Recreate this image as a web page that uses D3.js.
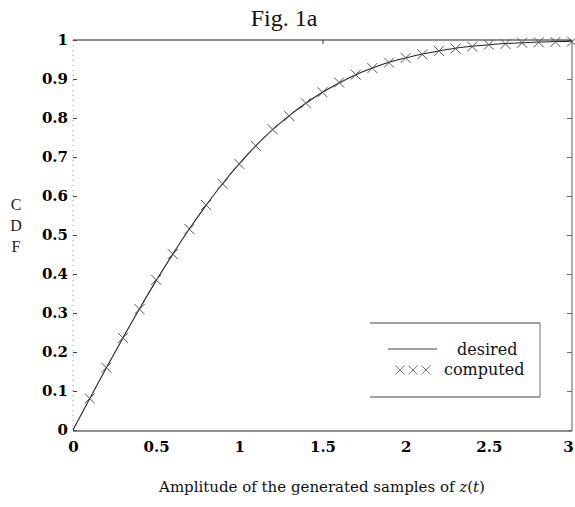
<!DOCTYPE html>
<html><head><meta charset="utf-8">
<script src="https://cdn.jsdelivr.net/npm/d3@7"></script>
<style>body{margin:0;background:#fff}</style>
</head><body><svg id="c" width="575" height="507"></svg>
<script>
const xTicks = [0, 0.5, 1, 1.5, 2, 2.5, 3];
const yTicks = [0, 0.1, 0.2, 0.3, 0.4, 0.5, 0.6, 0.7, 0.8, 0.9, 1];
const desiredX = [0, 0.1, 0.2, 0.3, 0.4, 0.5, 0.6, 0.7, 0.8, 0.9, 1.0, 1.1, 1.2, 1.3, 1.4, 1.5, 1.6, 1.7, 1.8, 1.9, 2.0, 2.1, 2.2, 2.3, 2.4, 2.5, 2.6, 2.7, 2.8, 2.9, 3.0];
const desiredY = [0, 0.080, 0.159, 0.236, 0.311, 0.383, 0.451, 0.516, 0.576, 0.632, 0.683, 0.729, 0.770, 0.806, 0.838, 0.866, 0.890, 0.911, 0.928, 0.943, 0.954, 0.964, 0.972, 0.979, 0.984, 0.988, 0.991, 0.993, 0.995, 0.996, 0.997];
const compX = [0.1, 0.2, 0.3, 0.4, 0.5, 0.6, 0.7, 0.8, 0.9, 1.0, 1.1, 1.2, 1.3, 1.4, 1.5, 1.6, 1.7, 1.8, 1.9, 2.0, 2.1, 2.2, 2.3, 2.4, 2.5, 2.6, 2.7, 2.8, 2.9, 3.0];
const compY = [0.081, 0.160, 0.236, 0.310, 0.385, 0.451, 0.515, 0.577, 0.631, 0.682, 0.728, 0.771, 0.805, 0.838, 0.866, 0.891, 0.911, 0.928, 0.942, 0.954, 0.963, 0.972, 0.978, 0.983, 0.988, 0.990, 0.993, 0.994, 0.995, 0.996];

const svg = d3.select("#c");
const L = 73, R = 572, T = 40, B = 430;
const x = d3.scaleLinear().domain([0, 3]).range([L, R]);
const y = d3.scaleLinear().domain([0, 1]).range([B, T]);
const serif = "'Liberation Serif', 'DejaVu Serif', serif";
const dvs = "'DejaVu Serif', serif";

// frame
svg.append("line").attr("x1", L).attr("x2", R).attr("y1", T).attr("y2", T).attr("stroke", "#222").attr("stroke-width", 1.2);
svg.append("line").attr("x1", L).attr("x2", R).attr("y1", B + 1).attr("y2", B + 1).attr("stroke", "#222").attr("stroke-width", 1.2);
svg.append("line").attr("x1", L).attr("x2", L).attr("y1", T).attr("y2", B).attr("stroke", "#999").attr("stroke-width", 1).attr("stroke-dasharray", "1,4");
svg.append("line").attr("x1", R).attr("x2", R).attr("y1", T).attr("y2", B + 1).attr("stroke", "#777").attr("stroke-width", 1.2);

// axes
const yAxis = d3.axisLeft(y).tickValues(yTicks).tickSize(-4).tickPadding(5).tickFormat(d => String(+d.toFixed(1)));
const gy = svg.append("g").attr("transform", `translate(${L},0)`).call(yAxis);
gy.select(".domain").remove();
gy.selectAll(".tick line").attr("stroke", "#444");
gy.selectAll(".tick text").attr("font-family", dvs).attr("font-weight", "bold").attr("font-size", 15).attr("fill", "#000");

const yAxisR = d3.axisRight(y).tickValues(yTicks).tickSize(-5).tickFormat("");
const gyr = svg.append("g").attr("transform", `translate(${R},0)`).call(yAxisR);
gyr.select(".domain").remove();
gyr.selectAll(".tick line").attr("stroke", "#666");

const xAxis = d3.axisBottom(x).tickValues(xTicks).tickSize(0).tickPadding(11).tickFormat(d => String(d));
const gx = svg.append("g").attr("transform", `translate(0,${B})`).call(xAxis);
gx.select(".domain").remove();
gx.selectAll(".tick text").attr("font-family", dvs).attr("font-weight", "bold").attr("font-size", 15).attr("fill", "#000")
  .attr("dx", d => d === 3 ? -4 : 0);

const xAxisT = d3.axisTop(x).tickValues([1.5]).tickSize(-4).tickFormat("");
const gxt = svg.append("g").attr("transform", `translate(0,${T})`).call(xAxisT);
gxt.select(".domain").remove();
gxt.selectAll(".tick line").attr("stroke", "#333");

// desired line
const line = d3.line().x((d, i) => x(desiredX[i])).y(d => y(d)).curve(d3.curveMonotoneX);
svg.append("path").attr("d", line(desiredY)).attr("fill", "none").attr("stroke", "#222").attr("stroke-width", 1.1);

// computed markers
const s = 5;
const mk = svg.append("g").attr("stroke", "#555").attr("stroke-width", 1);
compY.forEach((v, i) => {
  const cx = x(compX[i]), cy = y(v);
  mk.append("path").attr("d", `M${cx - s},${cy - s}L${cx + s},${cy + s}M${cx - s},${cy + s}L${cx + s},${cy - s}`);
});

// title
svg.append("text").attr("x", 284).attr("y", 26).attr("text-anchor", "middle").attr("font-family", serif).attr("font-size", 24).attr("fill", "#111").text("Fig. 1a");

// y label stacked
["C", "D", "F"].forEach((c, i) => {
  svg.append("text").attr("x", 16).attr("y", 210 + i * 21).attr("text-anchor", "middle").attr("font-family", serif).attr("font-size", 16).attr("fill", "#222").text(c);
});

// x label
const xl = svg.append("text").attr("x", 322).attr("y", 492).attr("text-anchor", "middle").attr("font-family", dvs).attr("font-size", 15).attr("fill", "#111");
xl.append("tspan").text("Amplitude of the generated samples of ");
xl.append("tspan").attr("font-style", "italic").text("z");
xl.append("tspan").text("(");
xl.append("tspan").attr("font-style", "italic").text("t");
xl.append("tspan").text(")");

// legend
const lg = svg.append("g");
lg.append("line").attr("x1", 370).attr("x2", 540).attr("y1", 323).attr("y2", 323).attr("stroke", "#444");
lg.append("line").attr("x1", 370).attr("x2", 540).attr("y1", 397).attr("y2", 397).attr("stroke", "#444");
lg.append("line").attr("x1", 540).attr("x2", 540).attr("y1", 323).attr("y2", 397).attr("stroke", "#777");
lg.append("line").attr("x1", 388).attr("x2", 437).attr("y1", 349).attr("y2", 349).attr("stroke", "#444");
lg.append("text").attr("x", 457).attr("y", 355).attr("font-family", dvs).attr("font-size", 16).attr("fill", "#111").text("desired");
[400, 413, 426].forEach(cx => {
  const cy = 370, r = 4.5;
  lg.append("path").attr("d", `M${cx - r},${cy - r}L${cx + r},${cy + r}M${cx - r},${cy + r}L${cx + r},${cy - r}`).attr("stroke", "#777").attr("stroke-width", 1);
});
lg.append("text").attr("x", 444).attr("y", 375).attr("font-family", dvs).attr("font-size", 16).attr("fill", "#111").text("computed");
</script></body></html>
